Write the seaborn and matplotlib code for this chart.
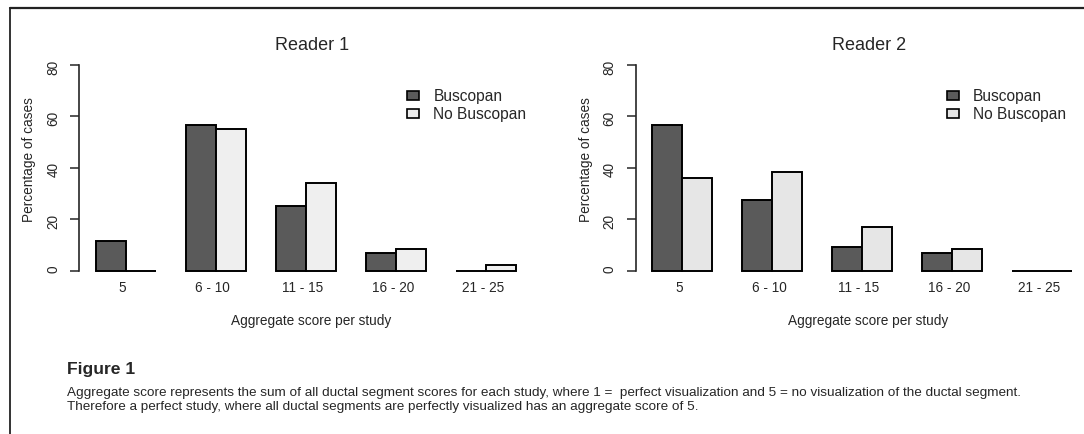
import pandas as pd
import seaborn as sns
import matplotlib.pyplot as plt
from matplotlib.patches import Patch
from matplotlib.lines import Line2D
from matplotlib.transforms import ScaledTranslation

# Values (percentage of cases)
score_bins = ["5", "6 - 10", "11 - 15", "16 - 20", "21 - 25"]
groups = ["Buscopan", "No Buscopan"]
r1_buscopan = [11.4, 56.8, 25.0, 6.8, 0.0]
r1_no_buscopan = [0.0, 55.3, 34.0, 8.5, 2.1]
r2_buscopan = [56.8, 27.3, 9.1, 6.8, 0.0]
r2_no_buscopan = [36.2, 38.3, 17.0, 8.5, 0.0]
y_ticks = [0, 20, 40, 60, 80]

dark = "#5a5a5a"
light_r1 = "#efefef"
light_r2 = "#e6e6e6"

sns.set_style("white")
plt.rcParams["font.family"] = ["Liberation Sans", "DejaVu Sans"]

W, H = 1084, 434
fig = plt.figure(figsize=(W / 100, H / 100), dpi=100)


def long_df(busc, no_busc):
    return pd.DataFrame({
        "score": score_bins * 2,
        "pct": busc + no_busc,
        "group": [groups[0]] * len(busc) + [groups[1]] * len(no_busc),
    })


# title, values, light colour, axes left (px), legend left (px)
panels = [
    ("Reader 1", r1_buscopan, r1_no_buscopan, light_r1, 79.3, 407.3),
    ("Reader 2", r2_buscopan, r2_no_buscopan, light_r2, 635.7, 947.0),
]

ax_w, ax_top, ax_bot = 453.2, 56.8, 278.9
for title, busc, no_busc, light, left, leg_x in panels:
    ax = fig.add_axes([left / W, 1 - ax_bot / H, ax_w / W, (ax_bot - ax_top) / H])
    df = long_df(busc, no_busc)
    sns.barplot(data=df, x="score", y="pct", hue="group", order=score_bins,
                hue_order=groups, palette=[dark, light], width=2 / 3,
                saturation=1, edgecolor="black", linewidth=1.4,
                legend=False, ax=ax)
    ax.set_xlim(-0.5156, -0.5156 + ax_w / 90)
    ax.set_ylim(-3.2, 83.2)
    for s in ["top", "right", "bottom"]:
        ax.spines[s].set_visible(False)
    ax.spines["left"].set_bounds(0, 80)
    ax.spines["left"].set_linewidth(1.2)
    ax.set_yticks(y_ticks)
    ax.tick_params(axis="y", direction="out", length=6.7, width=1.1, pad=7.0,
                   labelrotation=90, labelsize=9.8, left=True)
    ax.tick_params(axis="x", length=0, pad=1.5, labelsize=9.8)
    for lbl in ax.get_xticklabels():
        lbl.set_transform(lbl.get_transform() + ScaledTranslation(-3 / 100, 0, fig.dpi_scale_trans))

    ax.set_title(title, fontsize=13, x=(312.5 - 79.3) / ax_w,
                 y=(ax_bot - 50) / (ax_bot - ax_top), pad=0)
    ax.set_xlabel("Aggregate score per study", fontsize=9.8, va="center")
    ax.xaxis.set_label_coords((311.6 - 79.3) / ax_w, (ax_bot - 320.7) / (ax_bot - ax_top))
    ax.set_ylabel("Percentage of cases", fontsize=9.8, va="center")
    ax.yaxis.set_label_coords((29.3 - 79.3) / ax_w, (ax_bot - 160) / (ax_bot - ax_top))

    handles = [Patch(facecolor=dark, edgecolor="black", linewidth=1.2),
               Patch(facecolor=light, edgecolor="black", linewidth=1.2)]
    ax.legend(handles, groups, loc="upper left", frameon=False, fontsize=11.2,
              bbox_to_anchor=(leg_x / W, 1 - 89 / H),
              bbox_transform=fig.transFigure, borderpad=0, borderaxespad=0,
              handlelength=0.77, handleheight=0.5, handletextpad=0.9,
              labelspacing=0.17)

# Caption
fig.text(66.7 / W, 1 - 374.3 / H, "Figure 1", fontsize=12.6, fontweight="bold",
         va="baseline")
fig.text(66.7 / W, 1 - 395.6 / H,
         "Aggregate score represents the sum of all ductal segment scores for each study, "
         "where 1 =  perfect visualization and 5 = no visualization of the ductal segment.",
         fontsize=9.7, va="baseline")
fig.text(66.7 / W, 1 - 409.6 / H,
         "Therefore a perfect study, where all ductal segments are perfectly visualized "
         "has an aggregate score of 5.",
         fontsize=9.7, va="baseline")

# Page frame (top and left rules)
fig.add_artist(Line2D([10 / W, 1], [1 - 8 / H, 1 - 8 / H], color="#222222", linewidth=1.6))
fig.add_artist(Line2D([10 / W, 10 / W], [0, 1 - 8 / H], color="#222222", linewidth=1.3))

fig.savefig("out.png", dpi=100)
